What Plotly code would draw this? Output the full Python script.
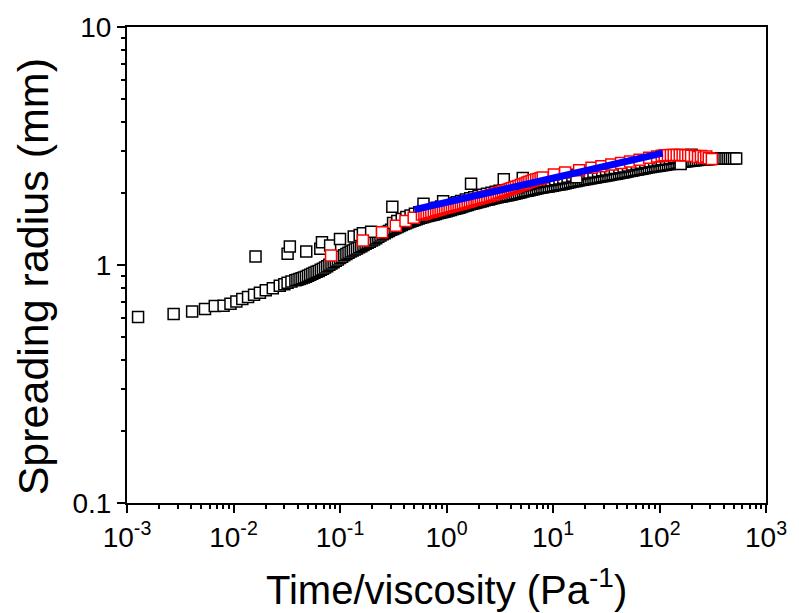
import plotly.graph_objects as go

# ---- data ----
# main black run: sparse start, then densely sampled
black_x = [0.00127, 0.00274, 0.00409, 0.0054, 0.00667, 0.00807, 0.00937, 0.01064, 0.0121, 0.0137,
           0.0156, 0.0177, 0.0201, 0.0234, 0.0272, 0.0300, 0.0322, 0.0350, 0.0381,
           0.03981, 0.04169, 0.04365, 0.04571, 0.04786, 0.05012, 0.05248, 0.05495, 0.05754, 0.06026,
           0.06310, 0.06607, 0.06918, 0.07244, 0.07586, 0.07943, 0.08318, 0.08710, 0.09120, 0.09550,
           0.1000, 0.1047, 0.1096, 0.1148, 0.1202, 0.1259, 0.1318, 0.1380, 0.1445, 0.1514,
           0.1585, 0.1660, 0.1738, 0.1820, 0.1905, 0.1995, 0.2089, 0.2188, 0.2291, 0.2399,
           0.2512, 0.2630, 0.2754, 0.2884, 0.3020, 0.3162, 0.3311, 0.3467, 0.3631, 0.3802,
           0.3981, 0.4169, 0.4365, 0.4571, 0.4786, 0.5012, 0.5248, 0.5495, 0.5754, 0.6026,
           0.6310, 0.6607, 0.6918, 0.7244, 0.7586, 0.7943, 0.8318, 0.8710, 0.9120, 0.9550,
           1.000, 1.047, 1.096, 1.148, 1.202, 1.259, 1.318, 1.380, 1.445, 1.514,
           1.585, 1.660, 1.738, 1.820, 1.905, 1.995, 2.089, 2.188, 2.291, 2.399,
           2.512, 2.630, 2.754, 2.884, 3.020, 3.162, 3.311, 3.467, 3.631, 3.802,
           3.981, 4.169, 4.365, 4.571, 4.786, 5.012, 5.248, 5.495, 5.754, 6.026,
           6.310, 6.607, 6.918, 7.244, 7.586, 7.943, 8.318, 8.710, 9.120, 9.550,
           10.00, 10.47, 10.96, 11.48, 12.02, 12.59, 13.18, 13.80, 14.45, 15.14,
           15.85, 16.60, 17.38, 18.20, 19.05, 19.95, 20.89, 21.88, 22.91, 23.99,
           25.12, 26.30, 27.54, 28.84, 30.20, 31.62, 33.11, 34.67, 36.31, 38.02,
           39.81, 41.69, 43.65, 45.71, 47.86, 50.12, 52.48, 54.95, 57.54, 60.26,
           63.10, 66.07, 69.18, 72.44, 75.86, 79.43, 83.18, 87.10, 91.20, 95.50,
           100.0, 104.7, 109.6, 114.8, 120.2, 125.9, 131.8, 138.0, 144.5, 151.4,
           158.5, 166.0, 173.8, 182.0, 190.5, 199.5, 208.9, 218.8, 229.1, 239.9,
           251.2, 263.0, 275.4, 288.4, 302.0, 316.2, 331.1, 346.7, 363.1, 380.2,
           398.1, 416.9, 436.5, 457.1, 478.6, 501.2, 524.8]
black_y = [0.604, 0.622, 0.637, 0.653, 0.672, 0.675, 0.688, 0.702, 0.719, 0.733,
           0.750, 0.765, 0.784, 0.799, 0.818, 0.830, 0.842, 0.852, 0.863,
           0.867, 0.873, 0.879, 0.886, 0.893, 0.901, 0.910, 0.919, 0.927, 0.936,
           0.944, 0.955, 0.965, 0.977, 0.989, 1.002, 1.015, 1.028, 1.041, 1.055,
           1.069, 1.084, 1.098, 1.113, 1.127, 1.139, 1.151, 1.162, 1.173, 1.186,
           1.200, 1.214, 1.227, 1.240, 1.253, 1.266, 1.280, 1.296, 1.313, 1.329,
           1.345, 1.360, 1.375, 1.390, 1.406, 1.418, 1.431, 1.444, 1.458, 1.472,
           1.487, 1.499, 1.511, 1.523, 1.535, 1.547, 1.558, 1.569, 1.580, 1.589,
           1.597, 1.605, 1.613, 1.622, 1.630, 1.639, 1.648, 1.657, 1.666, 1.675,
           1.684, 1.693, 1.703, 1.713, 1.722, 1.732, 1.742, 1.754, 1.766, 1.777,
           1.788, 1.798, 1.808, 1.818, 1.828, 1.838, 1.848, 1.858, 1.869, 1.878,
           1.886, 1.896, 1.906, 1.917, 1.926, 1.934, 1.941, 1.950, 1.958, 1.966,
           1.974, 1.983, 1.993, 2.002, 2.012, 2.023, 2.035, 2.044, 2.053, 2.063,
           2.073, 2.083, 2.093, 2.102, 2.110, 2.118, 2.125, 2.132, 2.139, 2.146,
           2.153, 2.162, 2.171, 2.179, 2.186, 2.194, 2.204, 2.217, 2.229, 2.238,
           2.247, 2.256, 2.265, 2.274, 2.282, 2.291, 2.299, 2.307, 2.315, 2.324,
           2.334, 2.342, 2.350, 2.358, 2.366, 2.376, 2.385, 2.395, 2.404, 2.412,
           2.420, 2.429, 2.439, 2.448, 2.458, 2.469, 2.480, 2.491, 2.501, 2.512,
           2.522, 2.531, 2.540, 2.550, 2.562, 2.572, 2.582, 2.591, 2.600, 2.607,
           2.614, 2.622, 2.630, 2.639, 2.648, 2.656, 2.665, 2.676, 2.687, 2.696,
           2.704, 2.713, 2.721, 2.729, 2.736, 2.743, 2.750, 2.756, 2.761, 2.766,
           2.770, 2.775, 2.779, 2.784, 2.788, 2.792, 2.795, 2.797, 2.799, 2.800,
           2.800, 2.800, 2.800, 2.800, 2.800, 2.800, 2.800]

# second black run, lying just above the first one (x >= 0.3)
black2_x = [0.315, 0.345, 0.38, 0.42, 0.46, 0.505, 0.555, 0.61, 0.67, 0.735,
            0.81, 0.89, 0.965, 1.05, 1.15, 1.25, 1.37, 1.52, 1.67, 1.82,
            2.0, 2.2, 2.4, 2.65, 2.9, 3.15, 3.45, 3.8, 4.2, 4.6,
            5.05, 5.55, 6.1, 6.7, 7.35, 8.1, 8.9, 9.65, 10.5, 11.5,
            12.5, 13.7, 15.2, 16.7, 18.2, 20, 22, 24, 26.5, 29,
            31.5, 34.5, 38, 42, 46, 50.5, 55.5, 61, 67, 73.5,
            81, 89, 96.5, 105, 115, 125, 137, 152, 167, 182, 200]
black2_y = [1.502, 1.530, 1.560, 1.591, 1.616, 1.641, 1.665, 1.686, 1.704, 1.721,
            1.742, 1.761, 1.778, 1.795, 1.815, 1.834, 1.857, 1.885, 1.908, 1.927,
            1.948, 1.971, 1.990, 2.012, 2.032, 2.049, 2.066, 2.084, 2.104, 2.123,
            2.146, 2.169, 2.189, 2.211, 2.230, 2.248, 2.263, 2.277, 2.292, 2.310,
            2.325, 2.348, 2.374, 2.393, 2.410, 2.428, 2.446, 2.464, 2.484, 2.501,
            2.517, 2.538, 2.557, 2.577, 2.596, 2.618, 2.643, 2.665, 2.686, 2.707,
            2.731, 2.751, 2.766, 2.779, 2.797, 2.814, 2.836, 2.859, 2.877, 2.893, 2.909]

# scattered black points lying above the main curve
scatter_x = [0.0161, 0.0322, 0.0338, 0.0482, 0.0653, 0.0677, 0.0808, 0.100, 0.1346, 0.153,
             0.164, 0.196, 0.31, 0.608, 0.93, 1.70, 3.45, 5.2, 16.6, 158]
scatter_y = [1.086, 1.115, 1.196, 1.14, 1.17, 1.246, 1.207, 1.287, 1.316, 1.338,
             1.36, 1.38, 1.756, 1.81, 1.855, 2.196, 2.29, 2.32, 2.34, 2.66]

red_x = [0.0824, 0.164, 0.248, 0.334, 0.412, 0.492, 0.588,
         0.62, 0.65, 0.685, 0.72, 0.76, 0.80, 0.84, 0.88, 0.925, 0.97,
         1.02, 1.07, 1.125, 1.18, 1.24, 1.3, 1.365, 1.43, 1.5, 1.58,
         1.66, 1.74, 1.83, 1.92, 2.0, 2.1, 2.2, 2.3, 2.42, 2.55,
         2.67, 2.8, 2.95, 3.1, 3.25, 3.4, 3.57, 3.75, 3.92, 4.1,
         4.3, 4.5, 4.75, 5.0, 5.25, 5.5, 5.75, 6.0, 6.3, 6.6,
         6.95, 7.3, 7.65, 8.0, 10.2,
         13.0, 17.6, 23.0, 28.5, 35.3, 43.6, 53, 65, 80, 95,
         105, 112, 120, 128, 136, 145, 155, 165, 175, 186,
         198, 215, 230, 245, 260, 275, 290, 310]
red_y = [1.096, 1.267, 1.372, 1.463, 1.53, 1.58, 1.63,
         1.643, 1.655, 1.665, 1.675, 1.688, 1.70, 1.71, 1.72, 1.73, 1.74,
         1.75, 1.76, 1.77, 1.78, 1.79, 1.80, 1.81, 1.82, 1.832, 1.845,
         1.855, 1.865, 1.878, 1.89, 1.90, 1.91, 1.92, 1.93, 1.942, 1.955,
         1.968, 1.98, 1.995, 2.01, 2.025, 2.04, 2.055, 2.07, 2.085, 2.10,
         2.115, 2.13, 2.15, 2.17, 2.185, 2.20, 2.22, 2.24, 2.255, 2.27,
         2.285, 2.30, 2.315, 2.33, 2.40,
         2.45, 2.50, 2.56, 2.60, 2.645, 2.68, 2.72, 2.77, 2.82, 2.86,
         2.88, 2.89, 2.895, 2.90, 2.90, 2.90, 2.90, 2.90, 2.895, 2.89,
         2.88, 2.87, 2.84, 2.87, 2.83, 2.86, 2.81, 2.79]

fit_x = [0.50, 107]
fit_y = [1.71, 2.95]

x_tickvals = [1e-3, 1e-2, 1e-1, 1e0, 1e1, 1e2, 1e3]
x_ticktext = ["10<sup>-3</sup>", "10<sup>-2</sup>", "10<sup>-1</sup>", "10<sup>0</sup>",
              "10<sup>1</sup>", "10<sup>2</sup>", "10<sup>3</sup>"]
y_tickvals = [0.1, 1, 10]
y_ticktext = ["0.1", "1", "10"]

x_minor = [m * 10.0 ** e for e in range(-3, 3) for m in range(2, 10)]
y_minor = [m * 10.0 ** e for e in range(-1, 1) for m in range(2, 10)]

FONT = "Arial, Liberation Sans, sans-serif"

MS = 11
LW = 1.5

fig = go.Figure()
for xs, ys, col in [(black_x, black_y, "black"), (black2_x, black2_y, "black"),
                    (scatter_x, scatter_y, "black"), (red_x, red_y, "red")]:
    fig.add_trace(go.Scatter(x=xs, y=ys, mode="markers",
                             marker=dict(symbol="square", size=MS, color="white",
                                         line=dict(color=col, width=LW))))
fig.add_trace(go.Scatter(x=fit_x, y=fit_y, mode="lines",
                         line=dict(color="blue", width=7)))

axis_common = dict(showline=True, linewidth=2, linecolor="black", mirror=True,
                   ticks="outside", ticklen=8, tickwidth=2, tickcolor="black",
                   showgrid=False, zeroline=False, ticklabeloverflow="allow")

fig.update_xaxes(type="log", range=[-3, 3], tickmode="array",
                 tickvals=x_tickvals, ticktext=x_ticktext,
                 tickfont=dict(family=FONT, size=28, color="black"),
                 minor=dict(ticks="outside", ticklen=4, tickwidth=1.5, tickcolor="black",
                            tickmode="array", tickvals=x_minor, showgrid=False),
                 **axis_common)
fig.update_yaxes(type="log", range=[-1, 1], tickmode="array",
                 tickvals=y_tickvals, ticktext=y_ticktext,
                 tickfont=dict(family=FONT, size=28, color="black"),
                 minor=dict(ticks="outside", ticklen=4, tickwidth=1.5, tickcolor="black",
                            tickmode="array", tickvals=y_minor, showgrid=False),
                 **axis_common)

fig.update_layout(
    width=799, height=613,
    margin=dict(l=127, r=22, t=24, b=110),
    paper_bgcolor="white", plot_bgcolor="white",
    showlegend=False,
    font=dict(family=FONT, color="black"),
    annotations=[
        dict(text="Time/viscosity (Pa<sup>-1</sup>)", xref="paper", yref="paper",
             x=0.5, y=-0.177, xanchor="center", yanchor="middle", showarrow=False,
             font=dict(family=FONT, size=40, color="black")),
        dict(text="Spreading radius (mm)", xref="paper", yref="paper",
             x=-0.1472, y=0.476, xanchor="center", yanchor="middle", showarrow=False,
             textangle=-90, font=dict(family=FONT, size=43, color="black")),
    ],
)

fig.write_html("out.html")
